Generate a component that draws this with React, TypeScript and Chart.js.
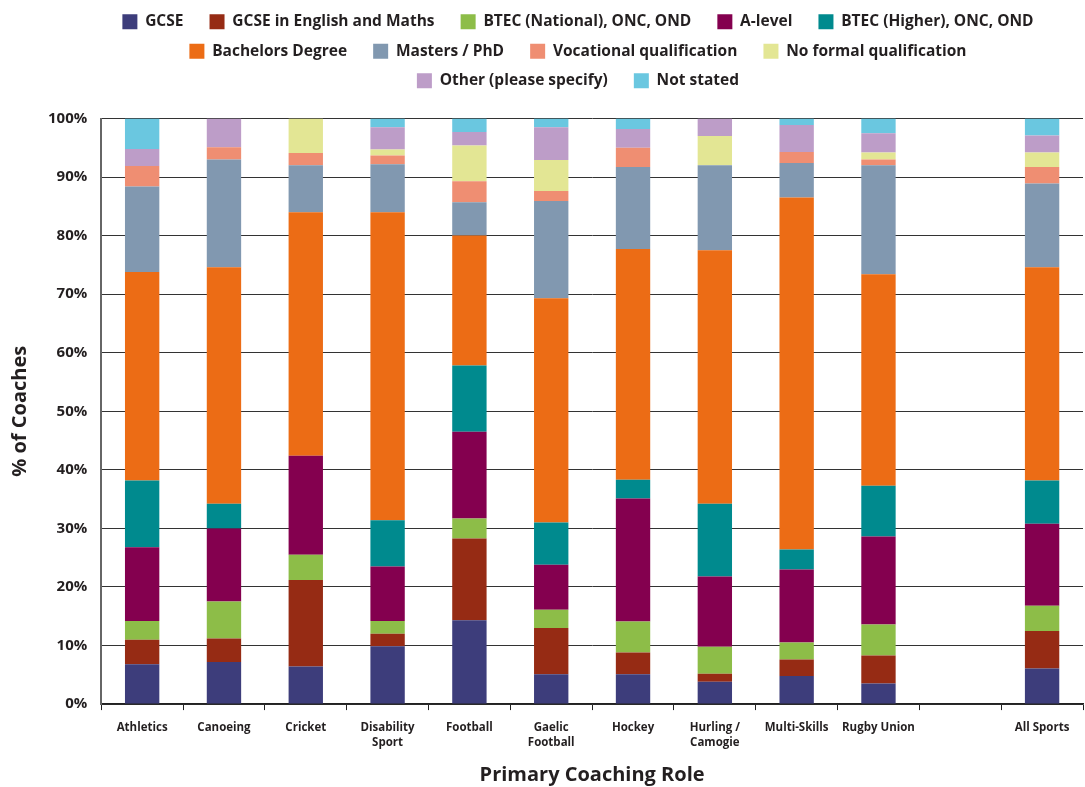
import React, { useEffect, useRef } from 'react';
import { Chart, registerables } from 'chart.js';

Chart.register(...registerables);

const categories: (string | string[])[] = [
  'Athletics',
  'Canoeing',
  'Cricket',
  ['Disability', 'Sport'],
  'Football',
  ['Gaelic', 'Football'],
  'Hockey',
  ['Hurling /', 'Camogie'],
  'Multi-Skills',
  'Rugby Union',
  '',
  'All Sports',
];

const gcse = [6.8, 7.2, 6.4, 9.9, 14.3, 5.1, 5.1, 3.8, 4.8, 3.5, null, 6.1];
const gcseEnglishMaths = [4.2, 4.0, 14.8, 2.1, 14.0, 7.9, 3.7, 1.4, 2.8, 4.8, null, 6.4];
const btecNational = [3.2, 6.3, 4.3, 2.2, 3.4, 3.1, 5.3, 4.6, 2.9, 5.3, null, 4.3];
const aLevel = [12.6, 12.5, 16.9, 9.3, 14.8, 7.7, 21.0, 12.0, 12.5, 15.0, null, 14.0];
const btecHigher = [11.4, 4.2, 0, 7.9, 11.3, 7.2, 3.2, 12.4, 3.4, 8.7, null, 7.4];
const bachelors = [35.6, 40.4, 41.6, 52.6, 22.2, 38.3, 39.4, 43.3, 60.1, 36.1, null, 36.4];
const mastersPhd = [14.6, 18.4, 8.0, 8.2, 5.7, 16.6, 14.0, 14.5, 5.9, 18.6, null, 14.3];
const vocational = [3.5, 2.1, 2.1, 1.5, 3.6, 1.7, 3.3, 0, 1.9, 1.0, null, 2.8];
const noFormal = [0, 0, 5.9, 1.0, 6.1, 5.3, 0, 5.0, 0, 1.2, null, 2.5];
const otherSpecify = [2.9, 4.9, 0, 3.8, 2.3, 5.6, 3.2, 3.0, 4.6, 3.3, null, 2.9];
const notStated = [5.2, 0, 0, 1.5, 2.3, 1.5, 1.8, 0, 1.1, 2.5, null, 2.9];

const seriesNames = [
  'GCSE',
  'GCSE in English and Maths',
  'BTEC (National), ONC, OND',
  'A-level',
  'BTEC (Higher), ONC, OND',
  'Bachelors Degree',
  'Masters / PhD',
  'Vocational qualification',
  'No formal qualification',
  'Other (please specify)',
  'Not stated',
];

const seriesColors = [
  '#3d3d7b',
  '#962b14',
  '#8dbd48',
  '#84004f',
  '#008a8e',
  '#ec6c15',
  '#8198b0',
  '#ef8e72',
  '#e3e694',
  '#bd9dc8',
  '#6ac7e0',
];

const yTicks = [0, 10, 20, 30, 40, 50, 60, 70, 80, 90, 100];

const FONT = "'Open Sans', 'DejaVu Sans', sans-serif";
const TEXT = '#231f20';

export default function App() {
  const ref = useRef<HTMLCanvasElement>(null);

  useEffect(() => {
    const seriesValues = [
      gcse,
      gcseEnglishMaths,
      btecNational,
      aLevel,
      btecHigher,
      bachelors,
      mastersPhd,
      vocational,
      noFormal,
      otherSpecify,
      notStated,
    ];

    const legendLayout = {
      id: 'legendLayout',
      beforeInit(chart: any) {
        const legend = chart.legend;
        const origUpdate = legend.update;
        legend.update = function (maxWidth: number, maxHeight: number, margins: any) {
          origUpdate.call(this, Math.min(maxWidth, 1000), maxHeight, margins);
          this.height += 20;
        };
      },
      afterLayout(chart: any) {
        chart.legend.left = 85;
      },
    };

    const chart = new Chart(ref.current as HTMLCanvasElement, {
      type: 'bar',
      data: {
        labels: categories as any,
        datasets: seriesNames.map((name, i) => ({
          label: name,
          data: seriesValues[i] as any,
          backgroundColor: seriesColors[i],
          borderWidth: 0,
          barPercentage: 0.42,
          categoryPercentage: 1,
        })),
      },
      options: {
        animation: false,
        responsive: true,
        maintainAspectRatio: false,
        layout: { padding: { left: 0, right: 2, top: 0, bottom: 0 } },
        plugins: {
          tooltip: { enabled: false },
          legend: {
            position: 'top',
            labels: {
              boxWidth: 15,
              boxHeight: 15,
              padding: 14,
              color: TEXT,
              font: { family: FONT, size: 15.5, weight: 'bold' },
              generateLabels: (c: any) =>
                Chart.defaults.plugins.legend.labels
                  .generateLabels(c)
                  .map((l: any) => ({ ...l, text: l.text + '\u00a0\u00a0\u00a0' })),
            },
          },
        },
        scales: {
          x: {
            stacked: true,
            grid: {
              display: true,
              drawOnChartArea: false,
              drawTicks: true,
              tickLength: 6,
              color: '#222',
              offset: true,
            },
            border: { display: true, color: '#222', width: 1.5 },
            ticks: {
              color: TEXT,
              font: { family: FONT, size: 11.5, weight: 'bold', lineHeight: 1.3 },
              padding: 10,
              maxRotation: 0,
              autoSkip: false,
            },
            title: {
              display: true,
              text: 'Primary Coaching Role',
              color: TEXT,
              font: { family: FONT, size: 20, weight: 'bold' },
              padding: { top: 3, bottom: 0 },
            },
          },
          y: {
            stacked: true,
            min: 0,
            max: 100,
            afterBuildTicks: (axis: any) => {
              axis.ticks = yTicks.map((v) => ({ value: v }));
            },
            grid: {
              color: '#333',
              lineWidth: 1,
              drawTicks: false,
            },
            border: { display: true, color: '#666', width: 2 },
            ticks: {
              color: TEXT,
              font: { family: FONT, size: 15, weight: 'bold' },
              padding: 14,
              callback: (v: any) => v + '%',
            },
            title: {
              display: true,
              text: '% of Coaches',
              color: TEXT,
              font: { family: FONT, size: 20, weight: 'bold' },
              padding: { top: 8, bottom: 2 },
            },
          },
        },
      },
      plugins: [legendLayout],
    });

    return () => chart.destroy();
  }, []);

  return (
    <div style={{ position: 'fixed', left: 0, top: 0, width: 1085, height: 787, background: '#fff' }}>
      <canvas ref={ref} />
    </div>
  );
}
